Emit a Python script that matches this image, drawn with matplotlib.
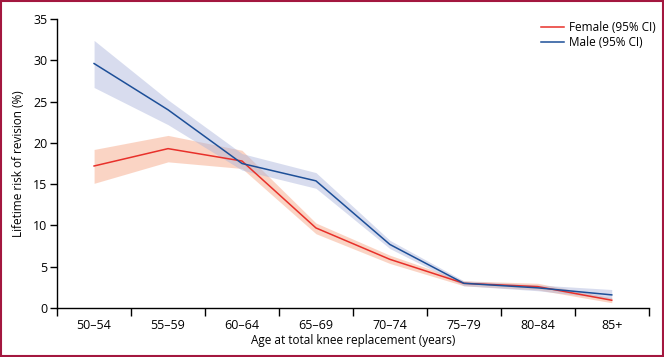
import matplotlib
matplotlib.use("Agg")
import matplotlib.pyplot as plt
from matplotlib.patches import Rectangle
import numpy as np

# age groups and lifetime revision risk (%)
ages = ["50–54", "55–59", "60–64", "65–69", "70–74", "75–79", "80–84", "85+"]

female = [17.2, 19.3, 17.8, 9.7, 5.9, 3.0, 2.6, 0.95]
female_lo = [15.1, 17.7, 16.9, 9.0, 5.4, 2.7, 2.2, 0.65]
female_hi = [19.2, 20.9, 19.1, 10.3, 6.4, 3.3, 3.0, 1.25]

male = [29.6, 24.0, 17.5, 15.4, 7.7, 3.0, 2.45, 1.6]
male_lo = [26.7, 22.2, 16.7, 14.5, 7.2, 2.7, 2.1, 1.1]
male_hi = [32.4, 25.2, 18.7, 16.4, 8.2, 3.3, 2.8, 2.25]

plt.rcParams['font.family'] = ['Open Sans', 'DejaVu Sans']

fig = plt.figure(figsize=(6.64, 3.57), dpi=100)
ax = fig.add_axes([0.086, 0.137, 0.891, 0.81])

x = np.arange(len(ages))
ax.fill_between(x, female_lo, female_hi, color='#f6a17e', alpha=0.45, lw=0)
ax.fill_between(x, male_lo, male_hi, color='#a9b3db', alpha=0.45, lw=0)
ax.plot(x, female, color='#e8302a', lw=1.1, label='Female (95% CI)')
ax.plot(x, male, color='#1d4f98', lw=1.1, label='Male (95% CI)')

ax.set_xlim(-0.5, len(ages) - 0.5)
ax.set_ylim(0, 35)
ax.set_yticks(range(0, 36, 5))
ax.set_xticks(np.arange(-0.5, len(ages), 1.0))
ax.set_xticklabels([])
ax.set_xticks(x, minor=True)
ax.set_xticklabels(ages, minor=True)
ax.tick_params(axis='x', which='major', length=6, width=1, direction='out')
ax.tick_params(axis='x', which='minor', length=0, pad=8, labelsize=9)
ax.tick_params(axis='y', length=5, width=1, labelsize=9, pad=2)

for s in ['top', 'right']:
    ax.spines[s].set_visible(False)
for s in ['left', 'bottom']:
    ax.spines[s].set_linewidth(1.0)

ax.set_xlabel('Age at total knee replacement (years)', fontsize=8.5, labelpad=1)
ax.set_ylabel('Lifetime risk of revision (%)', fontsize=8.5, labelpad=6)

ax.legend(loc='upper right', bbox_to_anchor=(1.03, 1.03), frameon=False,
          fontsize=8.5, handlelength=2.0, handletextpad=0.4, labelspacing=0.2)

fig.patches.append(Rectangle((0.002, 0.003), 0.996, 0.994, transform=fig.transFigure,
                             fill=False, edgecolor='#a3173f', lw=1.5))

fig.savefig('out.png', dpi=100)
